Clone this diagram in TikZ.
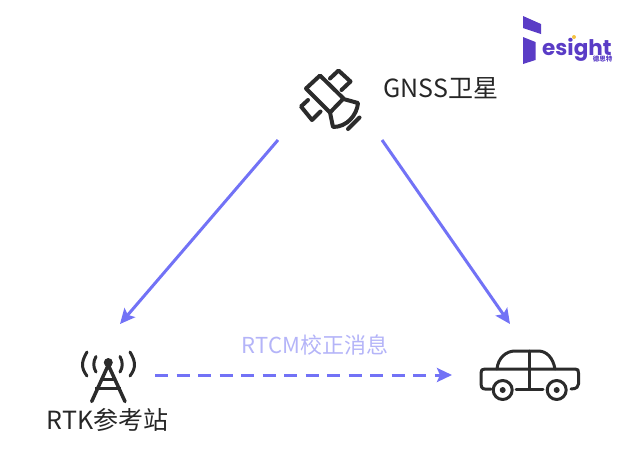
\documentclass[tikz,border=0pt]{standalone}
\usepackage{fontspec}
\usepackage{tikz}
\setmainfont{Noto Sans CJK SC}
\newfontfamily\logofont{Poppins}
\usetikzlibrary{arrows.meta,positioning}
\definecolor{linkblue}{HTML}{7272F6}
\definecolor{lightblue}{HTML}{B4B4F8}
\definecolor{icondark}{HTML}{2B2B2B}
\definecolor{logopurple}{HTML}{5A3CC6}
\definecolor{logodot}{HTML}{F5C242}
\tikzset{
  anchorbox/.style={minimum width=#1, minimum height=102pt, inner sep=0pt, outer sep=0pt},
  icon/.style={draw=icondark, line width=3pt, line cap=round, line join=round},
  labeltext/.style={inner sep=0pt, font=\fontsize{25}{30}\selectfont, text=black!85},
  link/.style={-{Stealth[length=15pt,width=14pt,inset=3pt]}, draw=linkblue, line width=3pt}
}

\begin{document}
\begin{tikzpicture}[x=1pt, y=-1pt]
            \useasboundingbox (0,0) rectangle (627,467);
            \node[anchorbox=104pt, minimum height=80pt] (sat) at (330,100) {};
            \node[anchorbox=70pt]  (tower) at (120,375) {};
            \node[anchorbox=116pt] (car)   at (510,375) {};
            \node[labeltext] (satlabel)   at (441,88)  {GNSS卫星};
            \node[labeltext] (towerlabel) at (107.5,420) {RTK参考站};
            \node[labeltext, text=lightblue, font=\fontsize{22}{26}\selectfont] (rtcm) at (315,345) {RTCM校正消息};
            % connectors
            \draw[link] (sat.south west) -- (tower.north);
            \draw[link] (sat.south east) -- (car.north);
            \draw[link, dash pattern=on 13pt off 8.5pt] (tower.east) -- (car.west);
            % satellite
            \draw[icon, line width=4pt] (320,75.5) -- (306,88.5) -- (330,112.5) -- (343.5,98.5) -- cycle;
            \draw[icon, line width=4pt] (330,78.5) -- (338.5,70.5) -- (350.5,81.5) -- (341.5,90);
            \draw[icon, line width=4pt] (308,100) -- (301,106.5) -- (312,120) -- (320.5,111.5);
            \draw[icon, line width=4pt] (343.5,99) -- (358,103) .. controls (357,115) and (347,127) .. (333,127) -- (330,112.5);
            \draw[icon, line width=4pt] (348,129) -- (359.5,117.5);
            % tower
            \fill[icondark] (108.3,362.5) circle (4.5pt);
            \draw[icon, line width=3.5pt] (91.7,401.5) -- (108.3,365) -- (125,401.5);
            \draw[icon, line cap=butt] (101,379) -- (116,379) (95,388.5) -- (121,388.5);
            \draw[icon] (96,356.5) .. controls (93,362) and (93,367) .. (96,372);
            \draw[icon] (120,356.5) .. controls (123,362) and (123,367) .. (120,372);
            \draw[icon] (87,352) .. controls (81,362) and (81,368) .. (87,376);
            \draw[icon] (130,352) .. controls (136,362) and (136,368) .. (130,376);
            % car
            \draw[icon] (491,389) -- (485,389) .. controls (481.5,389) and (481,386) .. (481,384) -- (481,373) .. controls (481,370) and (482,369) .. (485,369) -- (575,369) .. controls (578,369) and (578.5,370) .. (578.5,373) -- (578.5,384) .. controls (578.5,386) and (577,389) .. (571,389);
            \draw[icon] (497,369) .. controls (498,358) and (506,351) .. (515,351) -- (538,351) .. controls (547,351) and (553,358) .. (555,369);
            \draw[icon] (529.5,351) -- (529.5,389);
            \draw[icon] (516,389) -- (543,389);
            \draw[icon] (502.7,390) circle (9.5pt);
            \draw[icon] (556.7,390) circle (9.5pt);
            \fill[icondark] (502.7,390) circle (3pt);
            \fill[icondark] (556.7,390) circle (3pt);
            % logo
            \fill[logopurple] (523,16) -- (541,24) -- (541,34) -- (523,28) -- cycle;
            \fill[logopurple] (523,37) -- (535.5,42) -- (535.5,60) -- (523,64) -- cycle;
            \node[inner sep=0pt, anchor=base west, text depth=0pt, text=logopurple, font=\logofont\bfseries\fontsize{21.5}{24}\selectfont] (logoname) at (542,55) {esight};
            \fill[logodot] (574,37) circle (2pt);
            \node[inner sep=0pt, text=logopurple, font=\bfseries\fontsize{6.5}{7}\selectfont] (logosub) at (602.5,59.5) {德思特};
        \end{tikzpicture}
\end{document}
